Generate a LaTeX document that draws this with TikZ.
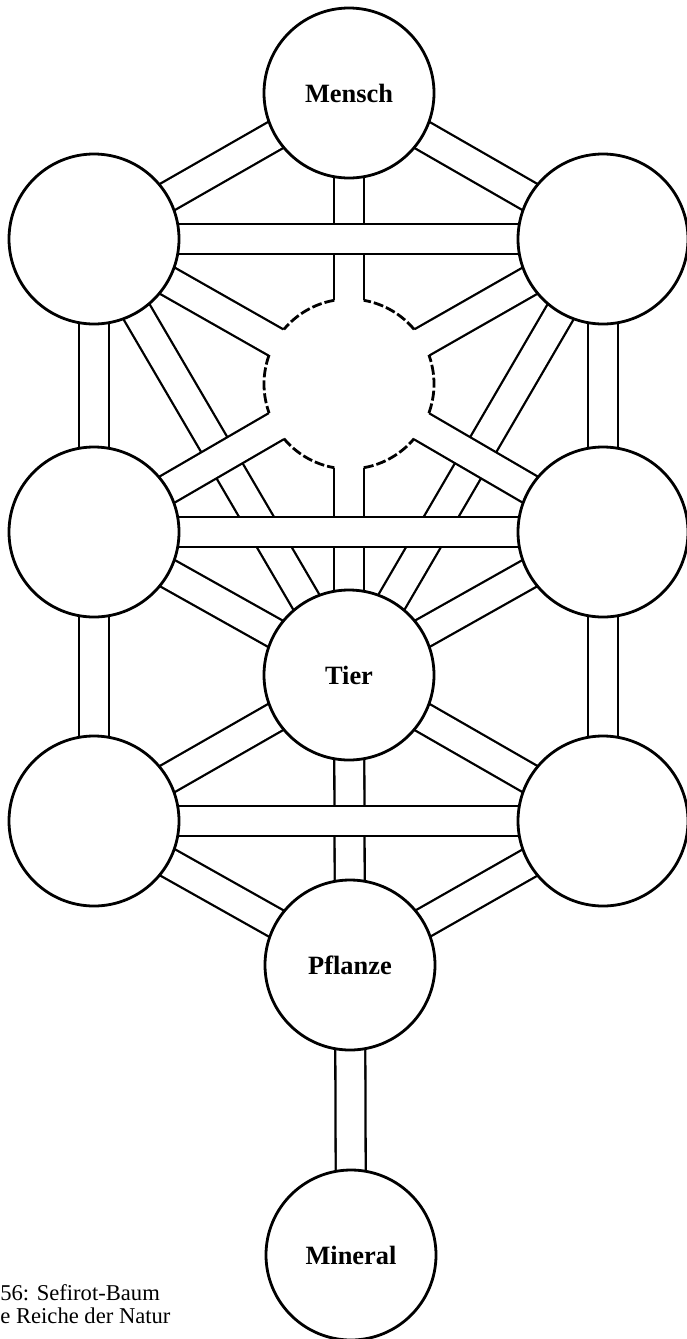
\documentclass[tikz,border=0pt]{standalone}
\usepackage{fontspec}
\setmainfont{Liberation Serif}
\usepackage{tikz}
\usetikzlibrary{backgrounds}

\begin{document}
\begin{tikzpicture}[x=0.5pt,y=0.5pt,
    sefira/.style={circle, draw, line width=1.4pt, fill=white, minimum size=85pt,
      inner sep=0pt, outer sep=0pt, font=\fontsize{13.2}{15}\selectfont\bfseries},
    daatcircle/.style={circle, fill=white, minimum size=85pt, inner sep=0pt, outer sep=0pt},
    daashed/.style={line width=1.4pt, dash pattern=on 5pt off 1.5pt},
    channel/.style={line width=1.15pt, double=white, double distance=13.85pt}]
    \useasboundingbox (0,0) rectangle (686,-1339);
    % the sefirot
    \node[sefira] (keter) at (349,-93) {Mensch};
    \node[sefira] (binah) at (94,-239) {};
    \node[sefira] (chochma) at (603,-239) {};
    \node[daatcircle] (daat) at (349,-384) {};
    \node[sefira] (gevura) at (94,-532) {};
    \node[sefira] (chesed) at (603,-532) {};
    \node[sefira] (tiferet) at (349,-675) {Tier};
    \node[sefira] (hod) at (94,-821) {};
    \node[sefira] (nezach) at (603,-821) {};
    \node[sefira] (jesod) at (350,-965) {Pflanze};
    \node[sefira] (malchut) at (351,-1255) {Mineral};
    % daat is only hinted at
    \foreach \a [evaluate=\a as \s using int(\a+10), evaluate=\a as \e using int(\a+50)] in {30,90,...,330}
      \draw[daashed] (daat.\s) arc[start angle=\s, end angle=\e, radius=42.5pt];
    % the paths, lowest first
    \begin{scope}[on background layer]
      \foreach \p/\q in {binah/tiferet, chochma/tiferet,
          keter/binah, keter/chochma, binah/daat, chochma/daat,
          gevura/daat, chesed/daat, gevura/tiferet, chesed/tiferet,
          hod/tiferet, nezach/tiferet, hod/jesod, nezach/jesod,
          keter/daat, daat/tiferet, tiferet/jesod, jesod/malchut,
          binah/gevura, gevura/hod, chochma/chesed, chesed/nezach,
          binah/chochma, gevura/chesed, hod/nezach}
        \draw[channel] (\p.center) -- (\q.center);
    \end{scope}
    % caption, cut off at the left
    \node[anchor=base west, inner sep=0pt, font=\fontsize{11.3}{13}\selectfont] (cap1) at (0,-1300) {56: Sefirot-Baum};
    \node[anchor=base west, inner sep=0pt, font=\fontsize{11.3}{13}\selectfont] (cap2) at (0,-1323) {e Reiche der Natur};
\end{tikzpicture}
\end{document}
